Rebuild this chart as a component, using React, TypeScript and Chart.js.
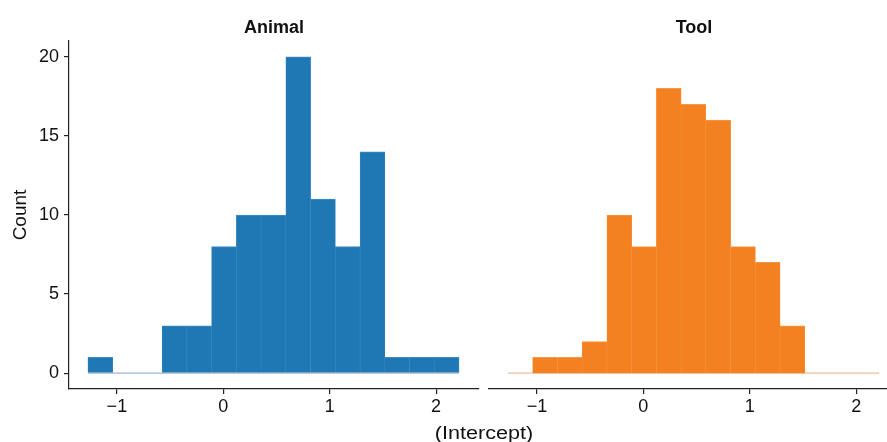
import React, { useEffect, useRef } from 'react';
import { Chart, registerables } from 'chart.js';

Chart.register(...registerables);

// ---- data ----
const binEdges = [-1.272, -1.0395, -0.807, -0.5745, -0.342, -0.1095, 0.123, 0.3555, 0.588, 0.8205, 1.053, 1.2855, 1.518, 1.7505, 1.983, 2.2155];
const animalCounts = [1, 0, 0, 3, 3, 8, 10, 10, 20, 11, 8, 14, 1, 1, 1];
const toolCounts = [0, 1, 1, 2, 10, 8, 18, 17, 16, 8, 7, 3, 0, 0, 0];
const panelTitles = ['Animal', 'Tool'];
const xTicks = [-1, 0, 1, 2];
const xTickLabels = ['\u22121', '0', '1', '2'];
const yTicks = [0, 5, 10, 15, 20];
const yTickLabels = ['0', '5', '10', '15', '20'];
const xTitle = '(Intercept)';
const yTitle = 'Count';

const FONT = '"Liberation Sans", Arial, Helvetica, sans-serif';
const INK = '#111111';
const AXIS = '#222222';

function buildConfig(counts: number[], fill: string, edge: string, zeroLine: string, showY: boolean, xMax: number, padLeft: number, padRight: number): any {
  const bars = counts.map((c, i) => ({ x: (binEdges[i] + binEdges[i + 1]) / 2, y: c }));
  const baseline = [
    { x: binEdges[0], y: 0 },
    { x: binEdges[binEdges.length - 1], y: 0 },
  ];
  const gridOpts = { display: true, offset: false, drawOnChartArea: false, drawTicks: true, tickLength: 5, color: AXIS, lineWidth: 1.2 };
  return {
    type: 'bar',
    data: {
      datasets: [
        {
          type: 'bar',
          data: bars,
          backgroundColor: fill,
          borderColor: edge,
          borderWidth: { top: 1, left: 0.5, right: 0.5, bottom: 0 },
          borderSkipped: false,
          barPercentage: 1,
          categoryPercentage: 1,
          order: 1,
        },
        {
          type: 'line',
          data: baseline,
          borderColor: zeroLine,
          borderWidth: 1.2,
          pointRadius: 0,
          order: 2,
        },
      ],
    },
    options: {
      animation: false,
      responsive: false,
      maintainAspectRatio: false,
      layout: { padding: { top: 41, left: padLeft, right: padRight, bottom: 0 } },
      plugins: { legend: { display: false }, tooltip: { enabled: false }, title: { display: false } },
      scales: {
        x: {
          type: 'linear',
          min: -1.45,
          max: xMax,
          offset: false,
          afterBuildTicks: (s: any) => { s.ticks = xTicks.map((v) => ({ value: v })); },
          afterFit: (s: any) => { s.height = 53; },
          grid: gridOpts,
          border: { display: true, color: AXIS, width: 1.2 },
          ticks: {
            font: { family: FONT, size: 18 },
            color: INK,
            padding: 2,
            maxRotation: 0,
            autoSkip: false,
            callback: (v: number) => xTickLabels[xTicks.indexOf(v)],
          },
        },
        y: {
          type: 'linear',
          min: -1,
          max: 21,
          display: showY,
          afterBuildTicks: (s: any) => { s.ticks = yTicks.map((v) => ({ value: v })); },
          afterFit: (s: any) => { s.width = showY ? 69 : 0; },
          title: {
            display: showY,
            text: yTitle,
            font: { family: FONT, size: 19 },
            color: INK,
            padding: { top: 9, bottom: 0 },
          },
          grid: gridOpts,
          border: { display: showY, color: AXIS, width: 1.2 },
          ticks: {
            font: { family: FONT, size: 18 },
            color: INK,
            padding: 5,
            callback: (v: number) => yTickLabels[yTicks.indexOf(v)],
          },
        },
      },
    },
  };
}

function Panel(props: { left: number; width: number; config: any }) {
  const ref = useRef<HTMLCanvasElement | null>(null);
  useEffect(() => {
    if (!ref.current) return;
    const chart = new Chart(ref.current, props.config);
    return () => chart.destroy();
  }, []);
  return (
    <canvas
      ref={ref}
      width={props.width}
      height={442}
      style={{ position: 'absolute', left: props.left, top: 0, width: props.width, height: 442 }}
    />
  );
}

export default function App() {
  const leftCfg = buildConfig(animalCounts, '#1f78b4', '#3f8cc2', 'rgba(120,150,175,0.7)', true, 2.403, 0, 1);
  const rightCfg = buildConfig(toolCounts, '#f4811f', '#f6964a', 'rgba(220,170,120,0.7)', false, 2.29, 5, 0);
  const titleStyle: React.CSSProperties = {
    position: 'absolute',
    top: 16,
    width: 410,
    textAlign: 'center',
    fontFamily: FONT,
    fontWeight: 'bold',
    fontSize: 18,
    lineHeight: '22px',
    color: INK,
    whiteSpace: 'nowrap',
  };
  return (
    <div style={{ position: 'absolute', left: 0, top: 0, width: 887, height: 442, overflow: 'hidden', background: '#ffffff' }}>
      <Panel left={0} width={480} config={leftCfg} />
      <Panel left={484} width={403} config={rightCfg} />
      <div style={{ ...titleStyle, left: 69 }}>{panelTitles[0]}</div>
      <div style={{ ...titleStyle, left: 489 }}>{panelTitles[1]}</div>
      <div
        style={{
          position: 'absolute',
          left: 69,
          top: 422,
          width: 830,
          textAlign: 'center',
          fontFamily: FONT,
          fontSize: 18,
          lineHeight: '22px',
          color: INK,
          whiteSpace: 'nowrap',
          transform: 'scaleX(1.2)',
          transformOrigin: '415px 11px',
        }}
      >
        {xTitle}
      </div>
    </div>
  );
}
